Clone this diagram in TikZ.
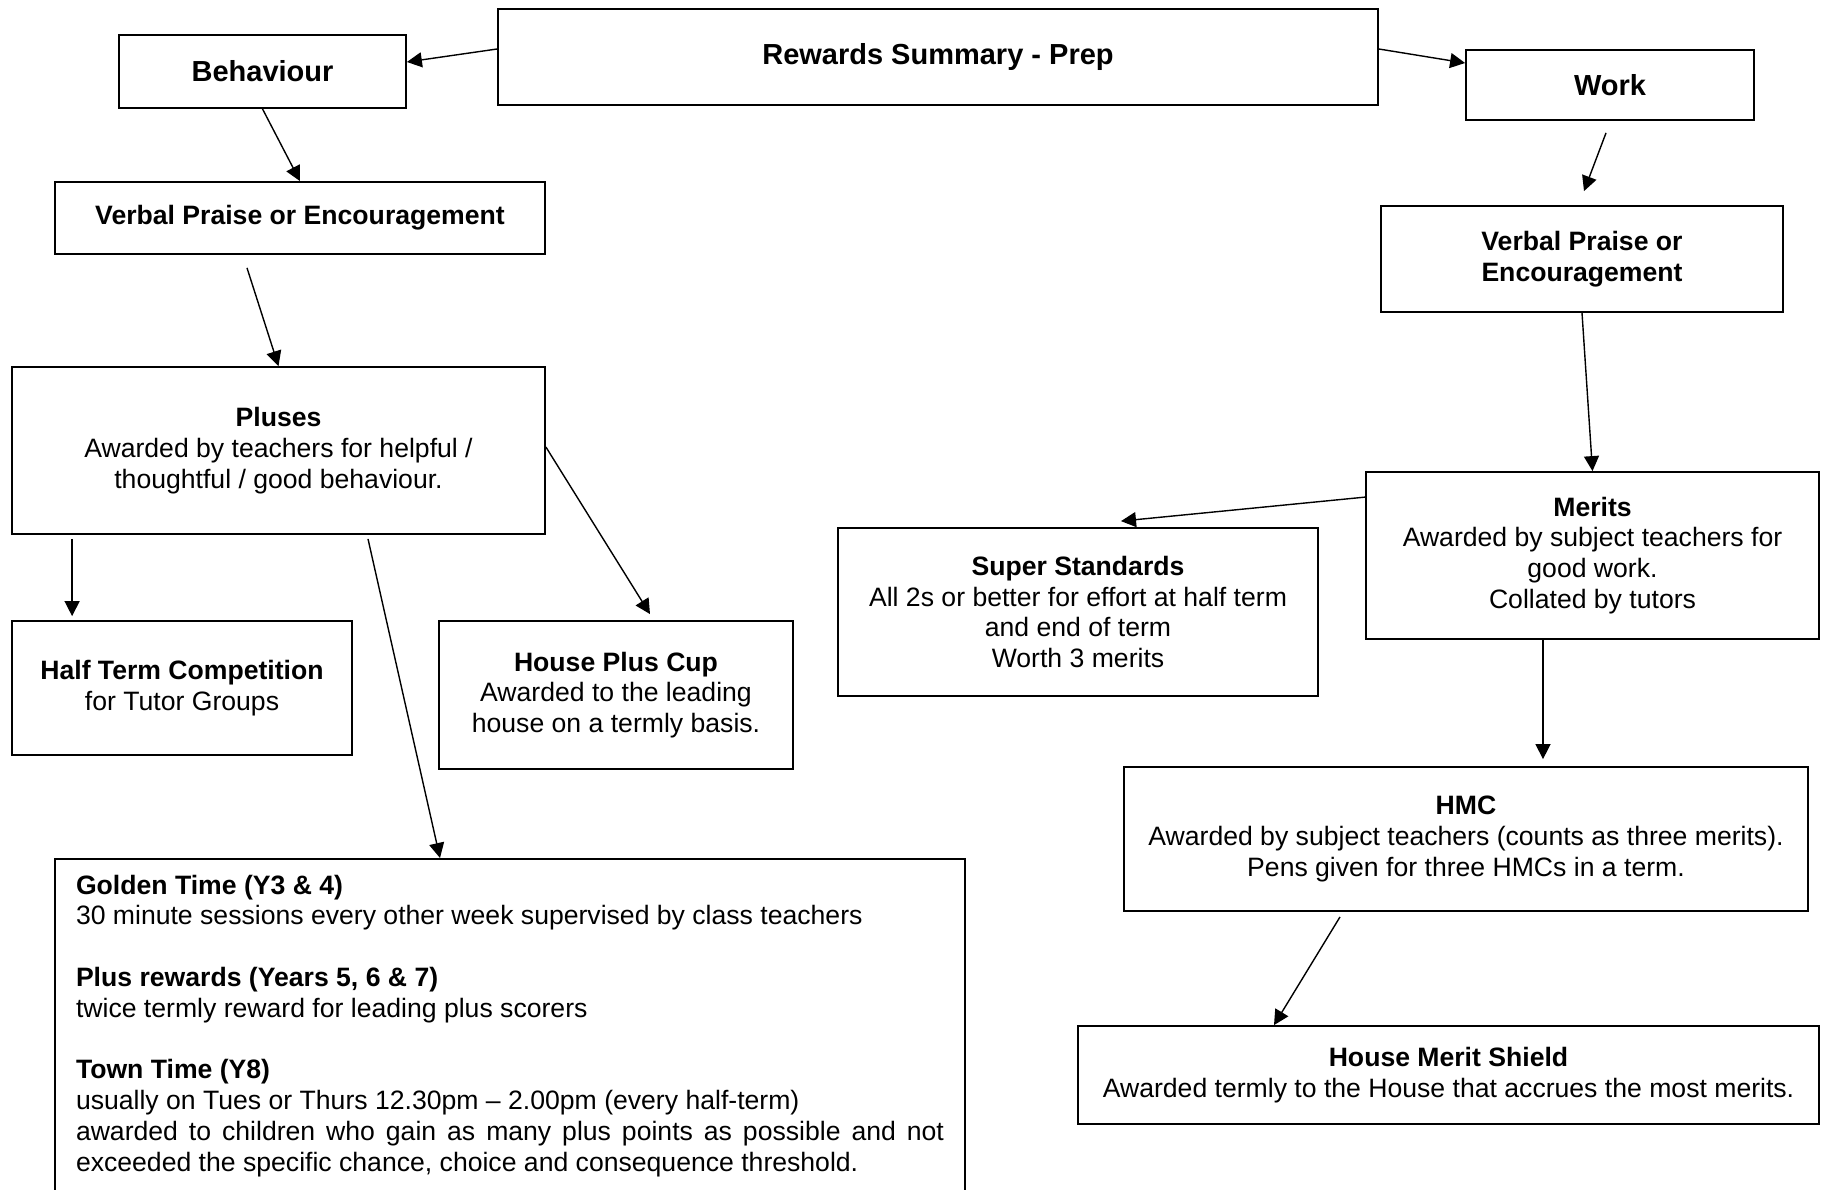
\documentclass[tikz,border=0pt]{standalone}
\usepackage{fontspec}
\setmainfont{Liberation Sans}
\usetikzlibrary{positioning,arrows.meta}

\begin{document}
\begin{tikzpicture}[
    x=0.5pt, y=-0.5pt,
    box/.style={%
      draw,
      rectangle,
      line width=0.9pt,
      align=center,
      inner sep=0pt,
      font=\fontsize{13.3}{15.4}\selectfont,
    },
    big/.style={font=\fontsize{14.5}{16.5}\selectfont\bfseries},
    arr/.style={-{Triangle[length=7.5pt,width=7.5pt]}, line width=0.7pt},
  ]

    \clip (0,0) rectangle (1826,1189);

    \node [box, big, minimum width=440pt, minimum height=48pt] (title) at (938,57) {Rewards Summary - Prep};
    \path (title) ++(-675.5,14.5) node [box, big, minimum width=143.5pt, minimum height=36.5pt] (behav) {Behaviour};
    \path (title) ++(672,28) node [box, big, minimum width=144pt, minimum height=35pt] (work) {Work};

    % behaviour side
    \path (behav) ++(37.5,146.5) node [box, minimum width=245pt, minimum height=36pt] (verbL) {\textbf{Verbal Praise or Encouragement}};
    \path (verbL) ++(-21.5,232.5) node [box, minimum width=266.5pt, minimum height=83.5pt] (pluses) {\textbf{Pluses}\\Awarded by teachers for helpful /\\thoughtful / good behaviour.};
    \path (pluses) ++(-96.5,237.5) node [box, minimum width=170pt, minimum height=67pt] (halfTerm) {\textbf{Half Term Competition}\\for Tutor Groups};
    \path (pluses) ++(337.5,244.5) node [box, minimum width=177pt, minimum height=74pt] (plusCup) {\textbf{House Plus Cup}\\Awarded to the leading\\house on a termly basis.};
    \path (pluses) ++(231.5,407.5) node [box, anchor=north, align=justify, text width=434pt, inner xsep=10.5pt, inner ysep=8pt] (golden) {\textbf{Golden Time (Y3 \& 4)}\\
      30 minute sessions every other week supervised by class teachers\\[15.4pt]
      \textbf{Plus rewards (Years 5, 6 \& 7)}\\
      twice termly reward for leading plus scorers\\[15.4pt]
      \textbf{Town Time (Y8)}\\
      usually on Tues or Thurs 12.30pm -- 2.00pm (every half-term)\\
      awarded to children who gain as many plus points as possible and not\linebreak
      exceeded the specific chance, choice and consequence threshold.\\[15.4pt]
      \strut};

    % work side
    \path (work) ++(-28,174) node [box, minimum width=201pt, minimum height=53pt] (verbR) {\textbf{Verbal Praise or}\\\textbf{Encouragement}};
    \path (verbR) ++(10.5,296.5) node [box, minimum width=226.5pt, minimum height=83.5pt] (merits) {\textbf{Merits}\\Awarded by subject teachers for\\good work.\\Collated by tutors};
    \path (merits) ++(-514.5,56.5) node [box, minimum width=240pt, minimum height=84pt] (super) {\textbf{Super Standards}\\All 2s or better for effort at half term\\and end of term\\Worth 3 merits};
    \path (merits) ++(-126.5,283.5) node [box, minimum width=342pt, minimum height=72pt] (hmc) {\textbf{HMC}\\Awarded by subject teachers (counts as three merits).\\Pens given for three HMCs in a term.};
    \path (hmc) ++(-17.5,236) node [box, minimum width=370.5pt, minimum height=49pt] (shield) {\textbf{House Merit Shield}\\Awarded termly to the House that accrues the most merits.};

    \draw [arr] ([shift={(0,-8)}]title.west) -- ([shift={(0,-9.5)}]behav.east);
    \draw [arr] ([shift={(0,-8)}]title.east) -- ([shift={(0,-22)}]work.west);
    \draw [arr] (behav.south) -- (verbL.north);
    \draw [arr] ([shift={(-53,13)}]verbL.south) -- (pluses.north);
    \draw [arr] ([shift={(89.5,4)}]pluses.south) -- ([shift={(-70,0)}]golden.north);
    \draw [arr] ([shift={(61,4)}]pluses.south west) -- ([shift={(61,-4)}]halfTerm.north west);
    \draw [arr] ([shift={(0,-3.5)}]pluses.east) -- ([shift={(34,-6)}]plusCup.north);
    \draw [arr] ([shift={(-4,12)}]work.south) -- ([shift={(2,-14)}]verbR.north);
    \draw [arr] (verbR.south) -- (merits.north);
    \draw [arr] ([shift={(0,26)}]merits.north west) -- ([shift={(43,-6)}]super.north);
    \draw [arr] ([shift={(-49.5,0)}]merits.south) -- ([shift={(77,-7)}]hmc.north);
    \draw [arr] ([shift={(-126,5)}]hmc.south) -- ([shift={(-174.5,0)}]shield.north);
\end{tikzpicture}
\end{document}
